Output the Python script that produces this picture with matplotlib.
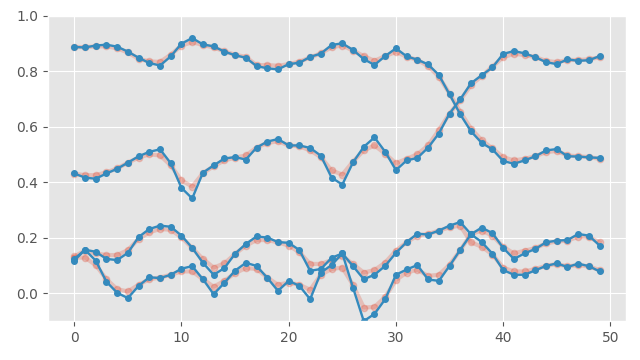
import numpy as np
import matplotlib
matplotlib.use("Agg")
import matplotlib.pyplot as plt

plt.style.use("ggplot")

# eje x: pasos 0..49
x = np.arange(50)

# --- datos medidos (azul) ---
azul_a = [0.888, 0.886, 0.893, 0.896, 0.889, 0.871, 0.849, 0.830, 0.821, 0.854,
          0.900, 0.920, 0.897, 0.890, 0.871, 0.858, 0.849, 0.819, 0.811, 0.807,
          0.826, 0.831, 0.852, 0.864, 0.895, 0.901, 0.877, 0.844, 0.823, 0.855,
          0.883, 0.854, 0.842, 0.825, 0.787, 0.717, 0.645, 0.584, 0.542, 0.519,
          0.477, 0.467, 0.479, 0.494, 0.515, 0.520, 0.494, 0.493, 0.490, 0.488]
azul_b = [0.432, 0.417, 0.413, 0.432, 0.449, 0.471, 0.494, 0.510, 0.519, 0.469,
          0.380, 0.342, 0.435, 0.461, 0.486, 0.491, 0.482, 0.525, 0.547, 0.556,
          0.533, 0.533, 0.524, 0.496, 0.417, 0.392, 0.472, 0.528, 0.562, 0.510,
          0.444, 0.479, 0.488, 0.525, 0.576, 0.648, 0.699, 0.757, 0.786, 0.814,
          0.863, 0.873, 0.865, 0.851, 0.833, 0.826, 0.843, 0.838, 0.840, 0.855]
azul_c = [0.124, 0.157, 0.150, 0.124, 0.120, 0.146, 0.203, 0.232, 0.244, 0.240,
          0.208, 0.164, 0.110, 0.067, 0.091, 0.143, 0.178, 0.205, 0.201, 0.185,
          0.182, 0.156, 0.081, 0.088, 0.128, 0.144, 0.098, 0.051, 0.067, 0.099,
          0.146, 0.185, 0.215, 0.212, 0.226, 0.244, 0.257, 0.213, 0.185, 0.143,
          0.084, 0.067, 0.067, 0.083, 0.099, 0.108, 0.095, 0.107, 0.098, 0.079]
azul_d = [0.118, 0.157, 0.118, 0.042, 0.002, -0.017, 0.027, 0.058, 0.055, 0.067,
          0.089, 0.098, 0.051, -0.003, 0.038, 0.082, 0.110, 0.099, 0.056, 0.009,
          0.045, 0.027, -0.021, 0.075, 0.102, 0.144, 0.020, -0.100, -0.074, -0.021,
          0.067, 0.086, 0.102, 0.050, 0.045, 0.099, 0.157, 0.213, 0.237, 0.217,
          0.164, 0.124, 0.144, 0.160, 0.184, 0.190, 0.192, 0.214, 0.208, 0.172]

# --- curvas suaves (rosa) ---
rosa_a = [0.888, 0.887, 0.890, 0.890, 0.883, 0.868, 0.845, 0.836, 0.834, 0.860,
          0.893, 0.905, 0.895, 0.886, 0.872, 0.860, 0.852, 0.822, 0.823, 0.820,
          0.826, 0.835, 0.850, 0.865, 0.887, 0.893, 0.875, 0.855, 0.838, 0.855,
          0.870, 0.853, 0.841, 0.819, 0.781, 0.720, 0.654, 0.594, 0.552, 0.522,
          0.491, 0.479, 0.485, 0.494, 0.509, 0.513, 0.497, 0.494, 0.491, 0.485]
rosa_b = [0.431, 0.426, 0.426, 0.436, 0.450, 0.471, 0.489, 0.501, 0.497, 0.461,
          0.407, 0.385, 0.433, 0.458, 0.479, 0.489, 0.497, 0.525, 0.542, 0.548,
          0.533, 0.530, 0.515, 0.491, 0.443, 0.428, 0.475, 0.515, 0.533, 0.503,
          0.469, 0.485, 0.501, 0.533, 0.588, 0.648, 0.696, 0.750, 0.783, 0.817,
          0.851, 0.863, 0.859, 0.851, 0.838, 0.833, 0.841, 0.841, 0.843, 0.851]
rosa_c = [0.133, 0.154, 0.144, 0.138, 0.138, 0.156, 0.196, 0.220, 0.232, 0.229,
          0.202, 0.163, 0.124, 0.093, 0.108, 0.142, 0.172, 0.192, 0.192, 0.184,
          0.172, 0.148, 0.106, 0.106, 0.120, 0.135, 0.105, 0.075, 0.084, 0.111,
          0.154, 0.184, 0.208, 0.214, 0.226, 0.238, 0.244, 0.184, 0.168, 0.140,
          0.093, 0.079, 0.079, 0.088, 0.099, 0.106, 0.097, 0.102, 0.097, 0.084]
rosa_d = [0.129, 0.129, 0.102, 0.051, 0.015, 0.007, 0.031, 0.051, 0.057, 0.067,
          0.079, 0.079, 0.051, 0.024, 0.045, 0.073, 0.091, 0.088, 0.057, 0.031,
          0.039, 0.031, 0.013, 0.067, 0.088, 0.093, 0.030, -0.051, -0.049, -0.013,
          0.048, 0.075, 0.085, 0.063, 0.067, 0.103, 0.155, 0.214, 0.226, 0.208,
          0.168, 0.144, 0.154, 0.163, 0.180, 0.187, 0.190, 0.204, 0.202, 0.184]

fig, ax = plt.subplots(figsize=(6.4, 3.6), dpi=100)

for rosa in [rosa_a, rosa_b, rosa_c, rosa_d]:
    ax.plot(x, rosa, color="#E24A33", alpha=0.25, lw=3, marker="o", markersize=4.5)
for azul in [azul_a, azul_b, azul_c, azul_d]:
    ax.plot(x, azul, color="#348ABD", lw=1.7, marker="o", markersize=4)

ax.set_ylim(-0.1, 1.0)
ax.set_xticks([0, 10, 20, 30, 40, 50])
ax.set_yticks([0.0, 0.2, 0.4, 0.6, 0.8, 1.0])

plt.subplots_adjust(left=0.075, right=0.978, top=0.956, bottom=0.108)
plt.savefig("out.png", dpi=100)
